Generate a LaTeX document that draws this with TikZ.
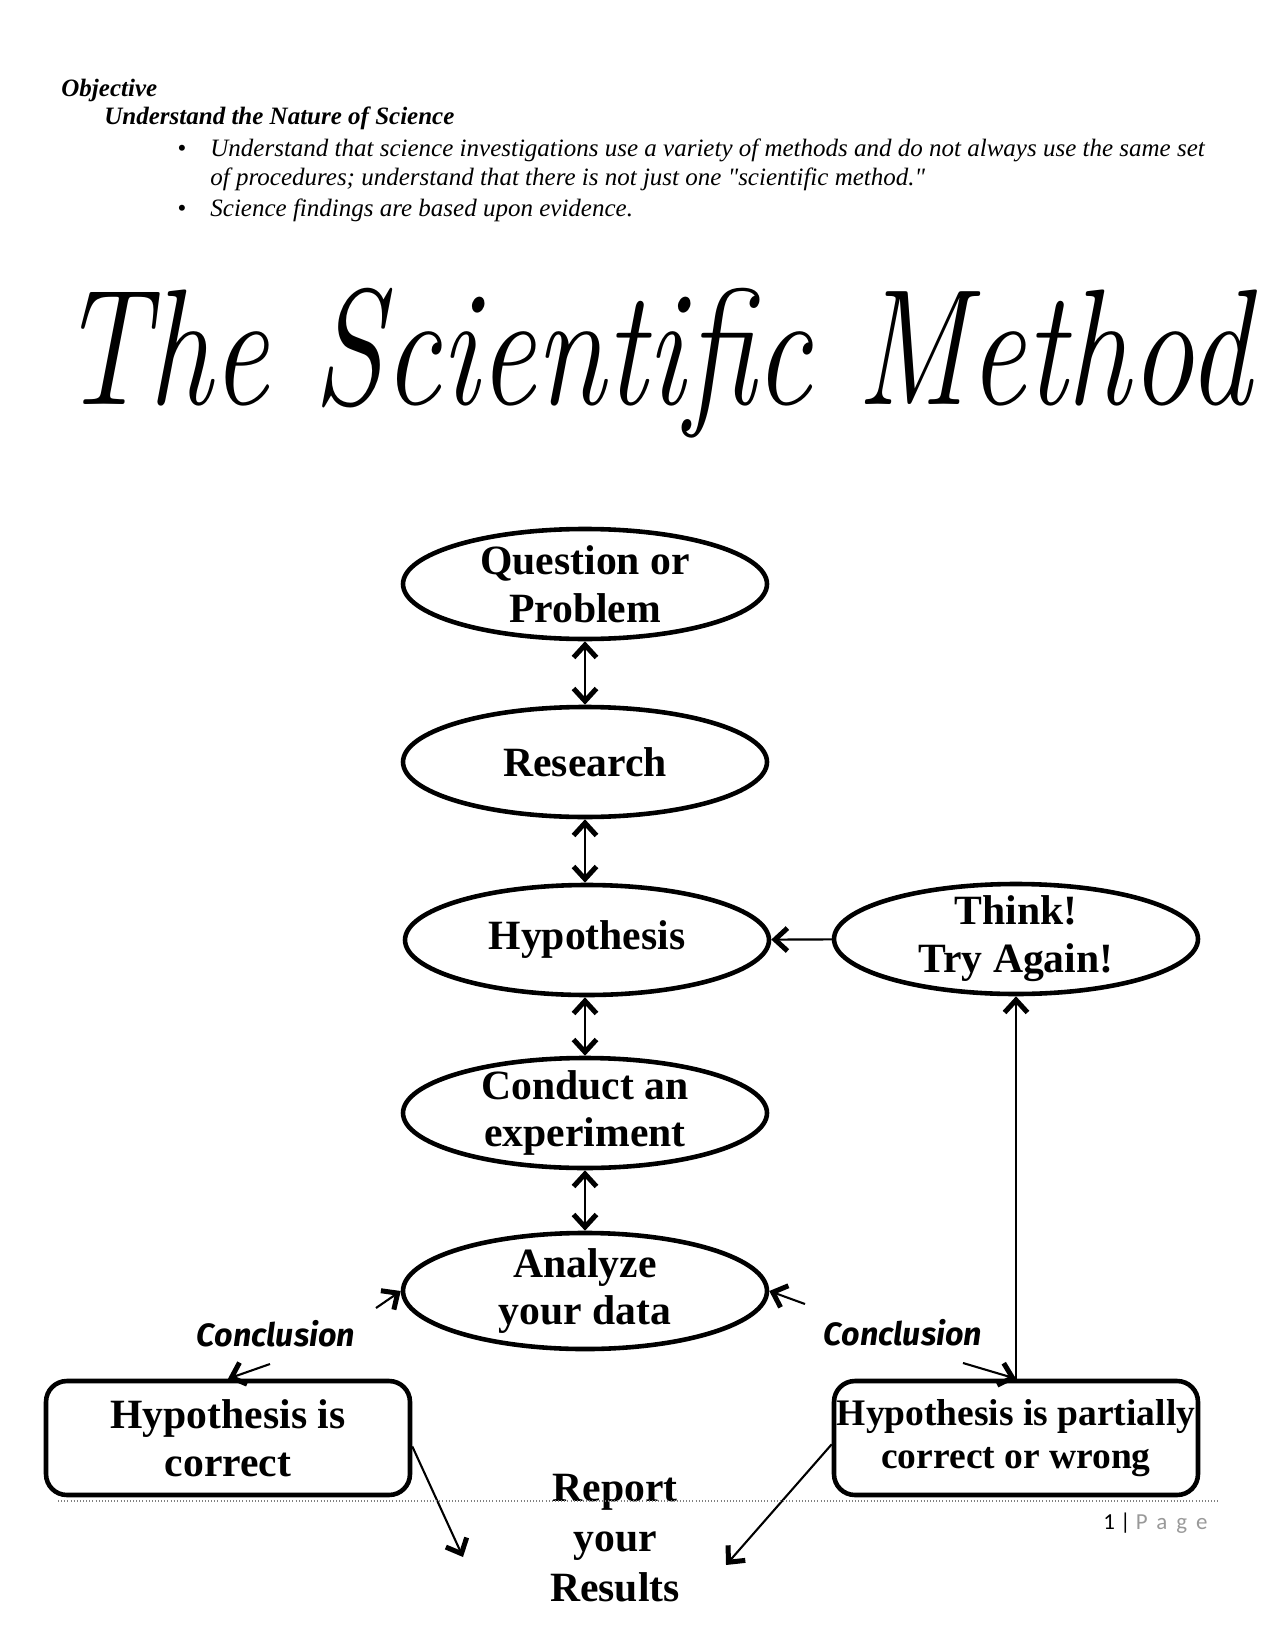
\documentclass[tikz,border=0pt]{standalone}
\usepackage{fontspec}
\newfontfamily\tnr{Liberation Serif}
\newfontfamily\concfont{Fira Sans}
\newfontfamily\footfont{Carlito}
\usetikzlibrary{shapes.geometric,arrows.meta}
\tikzset{
  hdr/.style={anchor=base west, inner sep=0pt, font=\tnr\itshape\fontsize{12}{14}\selectfont},
  hdrb/.style={hdr, font=\tnr\bfseries\itshape\fontsize{12}{14}\selectfont},
  ell/.style={draw, line width=2.2pt, ellipse, minimum width=174.7pt, minimum height=52.8pt, inner sep=0pt},
  lbl/.style={align=center, inner sep=0pt, font=\tnr\bfseries\fontsize{20}{23}\selectfont},
  rbox/.style={draw, line width=2.2pt, rounded corners=10pt, minimum width=174.7pt, minimum height=54.7pt, inner sep=0pt, align=center, font=\tnr\bfseries\fontsize{20}{23}\selectfont},
  tip/.tip={Straight Barb[length=6pt,width=11pt,line width=2.4pt]},
  conn/.style={line width=1pt, -tip},
  dconn/.style={line width=1pt, tip-tip},
  conc/.style={inner sep=0pt, font=\concfont\bfseries\itshape\fontsize{15.5}{17}\selectfont}
}
\begin{document}
\begin{tikzpicture}[x=0.48pt,y=-0.48pt]
\useasboundingbox (0,0) rectangle (1275,1650);
% header
\node[hdrb] (obj) at (61,97) {Objective};
\node[hdrb] (nat) at (104,125) {Understand the Nature of Science};
\node[hdr] (b1) at (177,157) {\textbullet};
\node[hdr] (t1) at (210,157) {Understand that science investigations use a variety of methods and do not always use the same set};
\node[hdr] (t1b) at (210,186) {of procedures; understand that there is not just one "scientific method."};
\node[hdr] (b2) at (177,217) {\textbullet};
\node[hdr] (t2) at (210,217) {Science findings are based upon evidence.};
% title
\node[anchor=base, inner sep=0pt] (title) at (655,405) {\scalebox{1}[1.3]{\fontsize{61}{63}\selectfont\itshape The Scientific Method}};
% main column
\node[ell, label={[lbl]center:{Question or\\Problem}}] (q) at (585,584) {};
\node[ell, label={[lbl]center:{Research}}] (r) at (585,762) {};
\node[ell, label={[lbl]center:{Hypothesis}}] (h) at (587,940) {};
\node[ell, label={[lbl]center:{Conduct an\\experiment}}] (c) at (585,1113) {};
\node[ell, minimum height=55.7pt, label={[lbl]center:{Analyze\\your data}}] (a) at (585,1291) {};
\node[ell, label={[lbl]center:{Think!\\Try Again!}}] (t) at (1016,939) {};
% boxes
\node[rbox] (hc) at (228,1438) {Hypothesis is\\correct};
\node[rbox, font=\tnr\bfseries\fontsize{18}{21}\selectfont] (hp) at (1016,1438) {Hypothesis is partially\\correct or wrong};
\node[lbl, font=\tnr\bfseries\fontsize{20}{24}\selectfont] (rep) at (615,1538) {Report\\your\\Results};
% conclusion labels
\node[conc] (cl) at (276,1334) {Conclusion};
\node[conc] (cr) at (903,1333) {Conclusion};
% free ends
\coordinate (c1) at (270,1364);
\coordinate (c2) at (376,1308);
\coordinate (c3) at (805,1304);
\coordinate (c4) at (963,1363);
\coordinate (e1) at (463,1557);
\coordinate (e2) at (726,1565);
% connectors
\draw[dconn] (q.south -| r.north) -- (r.north);
\draw[dconn] (r.south) -- (r.south |- h.north);
\draw[dconn] (h.south -| r.south) -- (r.south |- c.north);
\draw[dconn] (c.south) -- (a.north);
\draw[conn] (t) -- (h);
\draw[conn] (hp.north) -- (t.south);
\draw[conn] (c1) -- (hc.north);
\draw[conn] (c2) -- (a.west);
\draw[conn] (c3) -- (a.east);
\draw[conn] (c4) -- (hp.north);
\draw[conn] ([yshift=-4]hc.east) -- (e1);
\draw[conn] ([yshift=-3]hp.west) -- (e2);
% footer
\draw[densely dotted, gray, line width=0.5pt] (58,1501) -- (1218,1501);
\node[anchor=base east, inner sep=0pt, font=\footfont\fontsize{11}{12}\selectfont] (pg) at (1208,1529) {1 | {\color{gray!80}\addfontfeature{LetterSpace=40}Page}};
\end{tikzpicture}
\end{document}
